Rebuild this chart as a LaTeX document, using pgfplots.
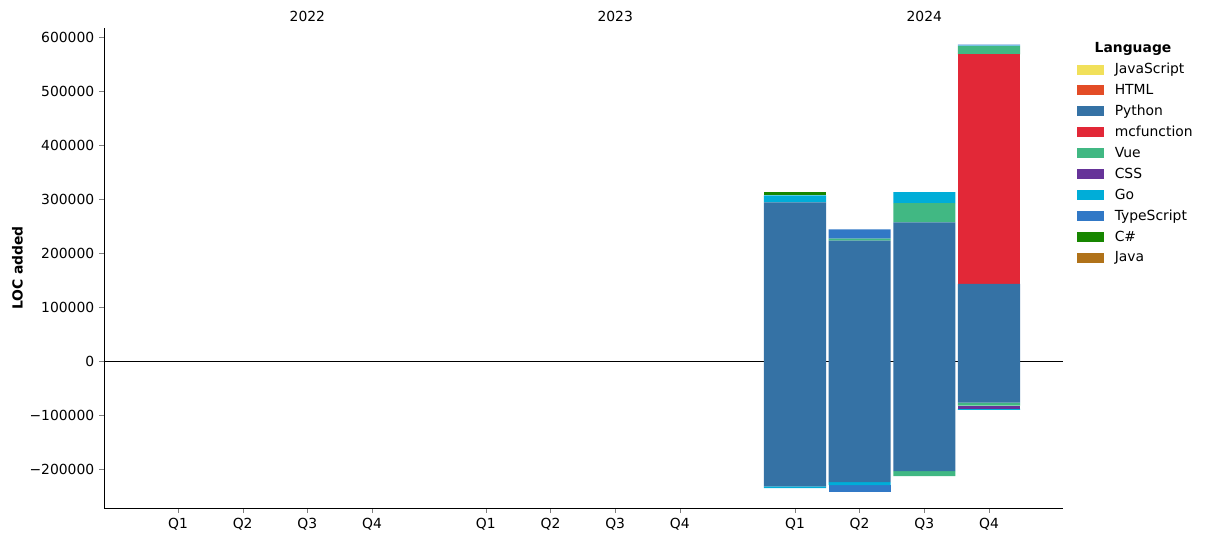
\documentclass[border=0pt]{standalone}
\usepackage{fontspec}
\setmainfont{DejaVu Sans}
\usepackage{pgfplots}
\pgfplotsset{compat=1.18}

% GitHub linguist colours
\definecolor{cJavaScript}{HTML}{F1E05A}
\definecolor{cHTML}{HTML}{E34C26}
\definecolor{cPython}{HTML}{3572A5}
\definecolor{cmcfunction}{HTML}{E22837}
\definecolor{cVue}{HTML}{41B883}
\definecolor{cCSS}{HTML}{663399}
\definecolor{cGo}{HTML}{00ADD8}
\definecolor{cTypeScript}{HTML}{3178C6}
\definecolor{cCsharp}{HTML}{178600}
\definecolor{cJava}{HTML}{B07219}

\pgfplotsset{
  base/.style={
    width=690.5pt, height=345.6pt, scale only axis,
    xmin=-1.144, xmax=13.685, ymin=-272000, ymax=616700,
    ybar stacked, bar width=0.96,
    every axis plot/.append style={draw=none, forget plot},
  },
  barleg/.style={legend image code/.code={\fill[##1] (0pt,-3.6pt) rectangle (20pt,3.6pt);}},
}

\begin{document}
\begin{tikzpicture}
% positive parts
\begin{axis}[base,
    axis x line*=bottom, axis y line*=left, axis line style={-},
    tick align=outside, major tick length=3.5pt,
    scaled y ticks=false,
    ytick={-200000,-100000,0,100000,200000,300000,400000,500000,600000},
    yticklabels={−200000,−100000,0,100000,200000,300000,400000,500000,600000},
    xtick={0,1,2,3,4.76,5.76,6.76,7.76,9.54,10.54,11.54,12.54},
    xticklabels={Q1,Q2,Q3,Q4,Q1,Q2,Q3,Q4,Q1,Q2,Q3,Q4},
    ylabel={\bfseries LOC added},
    ylabel style={yshift=-2pt},
    legend style={draw=none, fill=none, at={(1.0095,0.9375)}, anchor=north west,
      row sep=3.1pt, column sep=6pt, font=\fontsize{10}{12}\selectfont,
      nodes={inner sep=1.5pt}},
    legend cell align=left,
    clip=false,
]
\addplot[fill=cPython] coordinates {(6.76,0) (9.54,294000) (10.54,223000) (11.54,257000) (12.54,143000)};
\addplot[fill=cmcfunction] coordinates {(6.76,0) (9.54,0) (10.54,0) (11.54,0) (12.54,425000)};
\addplot[fill=cVue] coordinates {(6.76,0) (9.54,0) (10.54,4000) (11.54,35500) (12.54,15000)};
\addplot[fill=cCSS] coordinates {(6.76,0) (9.54,0) (10.54,0) (11.54,0) (12.54,1000)};
\addplot[fill=cGo] coordinates {(6.76,0) (9.54,13000) (10.54,0) (11.54,20500) (12.54,500)};
\addplot[fill=cTypeScript] coordinates {(6.76,0) (9.54,0) (10.54,17000) (11.54,0) (12.54,1500)};
\addplot[fill=cCsharp] coordinates {(6.76,0) (9.54,6000) (10.54,0) (11.54,0) (12.54,0)};
\addplot[fill=cJava] coordinates {(6.76,1000) (9.54,0) (10.54,0) (11.54,0) (12.54,0)};

\addlegendimage{barleg, fill=cJavaScript}\addlegendentry{JavaScript}
\addlegendimage{barleg, fill=cHTML}\addlegendentry{HTML}
\addlegendimage{barleg, fill=cPython}\addlegendentry{Python}
\addlegendimage{barleg, fill=cmcfunction}\addlegendentry{mcfunction}
\addlegendimage{barleg, fill=cVue}\addlegendentry{Vue}
\addlegendimage{barleg, fill=cCSS}\addlegendentry{CSS}
\addlegendimage{barleg, fill=cGo}\addlegendentry{Go}
\addlegendimage{barleg, fill=cTypeScript}\addlegendentry{TypeScript}
\addlegendimage{barleg, fill=cCsharp}\addlegendentry{C\#}
\addlegendimage{barleg, fill=cJava}\addlegendentry{Java}

\node[font=\bfseries] at (rel axis cs:1.073,0.957) {Language};
\node at (axis cs:2,616700) [yshift=8.6pt] {2022};
\node at (axis cs:6.76,616700) [yshift=8.6pt] {2023};
\node at (axis cs:11.54,616700) [yshift=8.6pt] {2024};
\end{axis}
% negative parts
\begin{axis}[base, hide axis]
\addplot[fill=cPython] coordinates {(9.54,-232000) (10.54,-224000) (11.54,-203500) (12.54,-77000)};
\addplot[fill=cVue] coordinates {(9.54,0) (10.54,0) (11.54,-9300) (12.54,-5500)};
\addplot[fill=cCSS] coordinates {(9.54,0) (10.54,0) (11.54,0) (12.54,-5600)};
\addplot[fill=cGo] coordinates {(9.54,-3000) (10.54,-5600) (11.54,0) (12.54,-2000)};
\addplot[fill=cTypeScript] coordinates {(9.54,0) (10.54,-13000) (11.54,0) (12.54,0)};
\draw[black, line width=0.5pt] (axis cs:-1.144,0) -- (axis cs:13.685,0);
\end{axis}
\path (-74.9pt,-24.5pt) rectangle (794.9pt,365.8pt);
\end{tikzpicture}
\end{document}
